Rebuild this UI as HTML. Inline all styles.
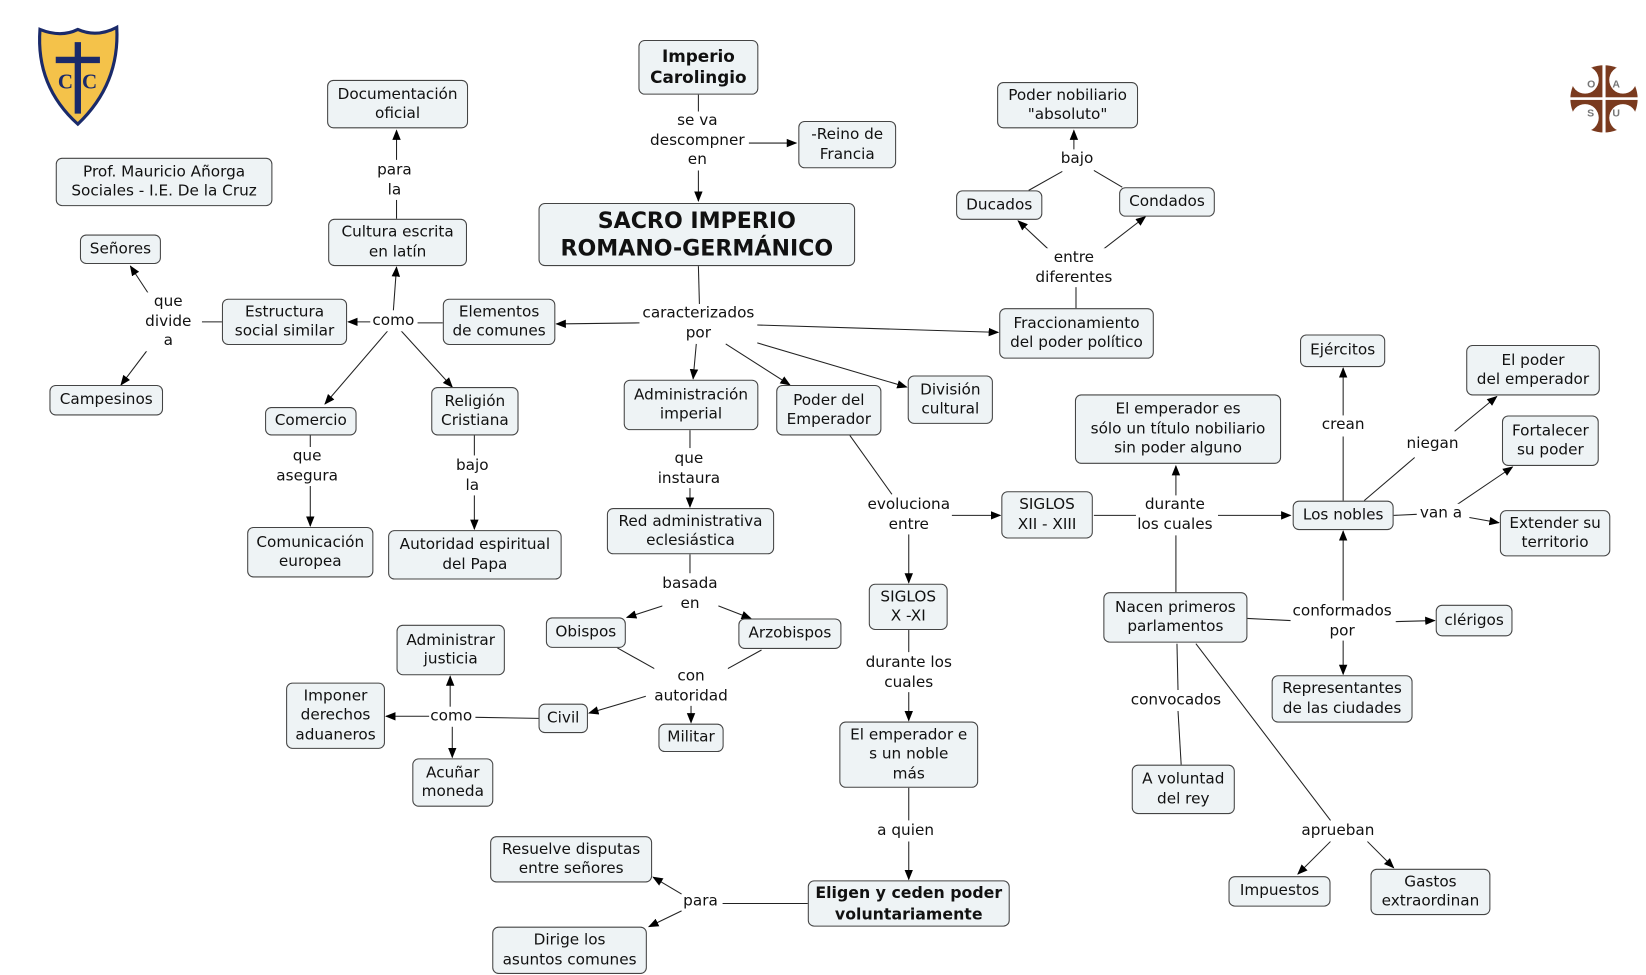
<!DOCTYPE html>
<html><head><meta charset="utf-8"><style>
html,body{margin:0;padding:0;background:#fff;width:1646px;height:975px;overflow:hidden}
#w{position:absolute;left:0;top:0;width:1565px;height:927px;transform:scale(1.0518);transform-origin:0 0;font-family:"DejaVu Sans","Liberation Sans",sans-serif;color:#111}
.n{position:absolute;box-sizing:border-box;background:#eef3f5;border:1px solid #444;border-radius:6px;display:flex;align-items:center;justify-content:center;text-align:center;font-size:14.5px;line-height:18.5px;white-space:nowrap}
.b{font-weight:bold;font-size:16px;line-height:20px}
.l{position:absolute;transform:translateX(-50%);text-align:center;font-size:14.5px;line-height:18.5px;white-space:nowrap;background:#fff}
svg{position:absolute;left:0;top:0}
</style></head><body><div id="w">
<svg width="1565" height="927">
<defs><marker id="a" markerWidth="10" markerHeight="10" refX="9" refY="5" orient="auto" markerUnits="userSpaceOnUse"><path d="M0,1 L10,5 L0,9 z" fill="#000"/></marker></defs>
<g stroke="#222" stroke-width="1" fill="none">
<line x1="664" y1="90" x2="664" y2="108"/><line x1="664" y1="162" x2="664" y2="191" marker-end="url(#a)"/><line x1="712" y1="136" x2="757" y2="136" marker-end="url(#a)"/>
<line x1="377" y1="208" x2="377" y2="190"/><line x1="377" y1="152" x2="377" y2="124" marker-end="url(#a)"/>
<line x1="1067" y1="178" x2="1040" y2="162"/><line x1="978" y1="181" x2="1010" y2="163"/><line x1="1021" y1="143" x2="1021" y2="124" marker-end="url(#a)"/>
<line x1="1023" y1="293" x2="1023" y2="272"/><line x1="1000" y1="240" x2="968" y2="210" marker-end="url(#a)"/><line x1="1045" y1="240" x2="1089" y2="206" marker-end="url(#a)"/>
<line x1="145" y1="285" x2="124" y2="253" marker-end="url(#a)"/><line x1="140" y1="333" x2="115" y2="366" marker-end="url(#a)"/><line x1="211" y1="306" x2="192" y2="306"/>
<line x1="421" y1="307" x2="397" y2="307"/><line x1="352" y1="306" x2="331" y2="306" marker-end="url(#a)"/><line x1="374" y1="295" x2="377" y2="254" marker-end="url(#a)"/><line x1="370" y1="313" x2="309" y2="384" marker-end="url(#a)"/><line x1="380" y1="313" x2="430" y2="368" marker-end="url(#a)"/>
<line x1="664" y1="253" x2="665" y2="290"/><line x1="608" y1="307" x2="529" y2="308" marker-end="url(#a)"/><line x1="720" y1="309" x2="949" y2="316" marker-end="url(#a)"/><line x1="662" y1="327" x2="659" y2="360" marker-end="url(#a)"/><line x1="690" y1="327" x2="751" y2="366" marker-end="url(#a)"/><line x1="720" y1="326" x2="862" y2="368" marker-end="url(#a)"/>
<line x1="1277" y1="476" x2="1277" y2="415"/><line x1="1277" y1="395" x2="1277" y2="350" marker-end="url(#a)"/>
<line x1="1297" y1="476" x2="1345" y2="435"/><line x1="1383" y1="410" x2="1423" y2="377" marker-end="url(#a)"/>
<line x1="1325" y1="490" x2="1347" y2="489"/><line x1="1397" y1="492" x2="1425" y2="497" marker-end="url(#a)"/><line x1="1382" y1="482" x2="1438" y2="444" marker-end="url(#a)"/>
<line x1="295" y1="414" x2="295" y2="425"/><line x1="295" y1="462" x2="295" y2="500" marker-end="url(#a)"/>
<line x1="451" y1="414" x2="451" y2="433"/><line x1="451" y1="470" x2="451" y2="503" marker-end="url(#a)"/>
<line x1="656" y1="409" x2="656" y2="426"/><line x1="656" y1="464" x2="656" y2="482" marker-end="url(#a)"/>
<line x1="808" y1="414" x2="848" y2="470"/><line x1="905" y1="490" x2="951" y2="490" marker-end="url(#a)"/><line x1="864" y1="508" x2="864" y2="554" marker-end="url(#a)"/>
<line x1="1040" y1="490" x2="1080" y2="490"/><line x1="1158" y1="490" x2="1227" y2="490" marker-end="url(#a)"/><line x1="1118" y1="473" x2="1118" y2="443" marker-end="url(#a)"/><line x1="1118" y1="563" x2="1118" y2="509"/>
<line x1="656" y1="527" x2="656" y2="545"/><line x1="630" y1="576" x2="596" y2="587" marker-end="url(#a)"/><line x1="683" y1="576" x2="714" y2="588" marker-end="url(#a)"/>
<line x1="587" y1="616" x2="628" y2="639"/><line x1="724" y1="618" x2="686" y2="639"/><line x1="614" y1="662" x2="560" y2="678" marker-end="url(#a)"/><line x1="657" y1="671" x2="657" y2="687" marker-end="url(#a)"/>
<line x1="512" y1="683" x2="452" y2="682"/><line x1="408" y1="681" x2="367" y2="681" marker-end="url(#a)"/><line x1="428" y1="672" x2="428" y2="643" marker-end="url(#a)"/><line x1="430" y1="690" x2="430" y2="720" marker-end="url(#a)"/>
<line x1="864" y1="599" x2="864" y2="620"/><line x1="864" y1="658" x2="864" y2="685" marker-end="url(#a)"/>
<line x1="864" y1="749" x2="864" y2="780"/><line x1="864" y1="800" x2="864" y2="836" marker-end="url(#a)"/>
<line x1="768" y1="859" x2="687" y2="859"/><line x1="648" y1="850" x2="621" y2="834" marker-end="url(#a)"/><line x1="648" y1="866" x2="617" y2="881" marker-end="url(#a)"/>
<line x1="1186" y1="588" x2="1227" y2="590"/><line x1="1327" y1="591" x2="1364" y2="590" marker-end="url(#a)"/><line x1="1277" y1="571" x2="1277" y2="505" marker-end="url(#a)"/><line x1="1277" y1="609" x2="1277" y2="641" marker-end="url(#a)"/>
<line x1="1119" y1="612" x2="1120" y2="656"/><line x1="1120" y1="676" x2="1123" y2="727"/>
<line x1="1137" y1="612" x2="1265" y2="780"/><line x1="1265" y1="800" x2="1234" y2="831" marker-end="url(#a)"/><line x1="1300" y1="800" x2="1325" y2="825" marker-end="url(#a)"/>
</g>
<!-- shield -->
<path d="M38,28 Q58,36 74,28 Q92,36 111,26 Q114,80 74,118 Q34,82 38,28 z" fill="#f4c24a" stroke="#1a2a6a" stroke-width="3"/>
<path d="M71,40 h6 v14 h18 v6 h-18 v48 h-6 v-48 h-18 v-6 h18 z" fill="#1a2a6a"/>
<text x="55" y="84" font-size="20" font-weight="bold" fill="#1a2a6a" font-family="Liberation Serif,serif">C</text>
<text x="78" y="84" font-size="20" font-weight="bold" fill="#1a2a6a" font-family="Liberation Serif,serif">C</text>
<!-- right logo -->
<circle cx="1525" cy="94" r="32" fill="#7a3a1e"/>
<circle cx="1507" cy="76" r="13" fill="#fff"/><circle cx="1543" cy="76" r="13" fill="#fff"/>
<circle cx="1507" cy="112" r="13" fill="#fff"/><circle cx="1543" cy="112" r="13" fill="#fff"/>
<rect x="1523.5" y="60" width="3" height="68" fill="#fff"/><rect x="1492" y="92.5" width="66" height="2.5" fill="#fff"/>
<g font-size="10" fill="#777" font-family="Liberation Sans,sans-serif" font-weight="bold"><text x="1509" y="83">O</text><text x="1533" y="83">A</text><text x="1509" y="111">S</text><text x="1533" y="111">U</text></g>
</svg>

<div class="n b" style="left:607px;top:38px;width:114px;height:52px">Imperio<br>Carolingio</div>
<div class="n" style="left:311px;top:76px;width:134px;height:46px">Documentación<br>oficial</div>
<div class="n" style="left:53px;top:150px;width:206px;height:46px">Prof. Mauricio Añorga<br>Sociales - I.E. De la Cruz</div>
<div class="n" style="left:948px;top:78px;width:134px;height:44px">Poder nobiliario<br>"absoluto"</div>
<div class="n" style="left:759px;top:115px;width:93px;height:45px">-Reino de<br>Francia</div>
<div class="n" style="left:76px;top:223px;width:77px;height:28px">Señores</div>
<div class="n" style="left:312px;top:208px;width:132px;height:45px">Cultura escrita<br>en latín</div>
<div class="n" style="left:512px;top:193px;width:301px;height:60px;font-weight:bold;font-size:21px;line-height:26px">SACRO IMPERIO<br>ROMANO-GERMÁNICO</div>
<div class="n" style="left:909px;top:181px;width:82px;height:28px">Ducados</div>
<div class="n" style="left:1064px;top:178px;width:91px;height:28px">Condados</div>
<div class="n" style="left:211px;top:284px;width:119px;height:44px">Estructura<br>social similar</div>
<div class="n" style="left:421px;top:284px;width:107px;height:44px">Elementos<br>de comunes</div>
<div class="n" style="left:950px;top:293px;width:147px;height:48px">Fraccionamiento<br>del poder político</div>
<div class="n" style="left:47px;top:366px;width:108px;height:29px">Campesinos</div>
<div class="n" style="left:1236px;top:318px;width:81px;height:31px">Ejércitos</div>
<div class="n" style="left:1394px;top:328px;width:127px;height:48px">El poder<br>del emperador</div>
<div class="n" style="left:252px;top:387px;width:87px;height:27px">Comercio</div>
<div class="n" style="left:410px;top:368px;width:83px;height:46px">Religión<br>Cristiana</div>
<div class="n" style="left:593px;top:361px;width:128px;height:48px">Administración<br>imperial</div>
<div class="n" style="left:738px;top:366px;width:100px;height:48px">Poder del<br>Emperador</div>
<div class="n" style="left:863px;top:357px;width:81px;height:46px">División<br>cultural</div>
<div class="n" style="left:1022px;top:375px;width:196px;height:66px">El emperador es<br>sólo un título nobiliario<br>sin poder alguno</div>
<div class="n" style="left:1428px;top:395px;width:92px;height:48px">Fortalecer<br>su poder</div>
<div class="n" style="left:952px;top:467px;width:87px;height:45px">SIGLOS<br>XII - XIII</div>
<div class="n" style="left:1229px;top:476px;width:96px;height:28px">Los nobles</div>
<div class="n" style="left:1426px;top:485px;width:105px;height:44px">Extender su<br>territorio</div>
<div class="n" style="left:235px;top:501px;width:120px;height:48px">Comunicación<br>europea</div>
<div class="n" style="left:577px;top:483px;width:159px;height:44px">Red administrativa<br>eclesiástica</div>
<div class="n" style="left:369px;top:504px;width:165px;height:47px">Autoridad espiritual<br>del Papa</div>
<div class="n" style="left:826px;top:555px;width:75px;height:44px">SIGLOS<br>X -XI</div>
<div class="n" style="left:1049px;top:563px;width:137px;height:48px">Nacen primeros<br>parlamentos</div>
<div class="n" style="left:1365px;top:575px;width:73px;height:30px">clérigos</div>
<div class="n" style="left:519px;top:587px;width:76px;height:29px">Obispos</div>
<div class="n" style="left:702px;top:588px;width:98px;height:29px">Arzobispos</div>
<div class="n" style="left:377px;top:594px;width:103px;height:48px">Administrar<br>justicia</div>
<div class="n" style="left:1209px;top:642px;width:134px;height:45px">Representantes<br>de las ciudades</div>
<div class="n" style="left:272px;top:649px;width:94px;height:63px">Imponer<br>derechos<br>aduaneros</div>
<div class="n" style="left:512px;top:669px;width:47px;height:28px">Civil</div>
<div class="n" style="left:626px;top:688px;width:62px;height:27px">Militar</div>
<div class="n" style="left:798px;top:686px;width:132px;height:63px">El emperador e<br>s un noble<br>más</div>
<div class="n" style="left:1076px;top:727px;width:98px;height:47px">A voluntad<br>del rey</div>
<div class="n" style="left:392px;top:721px;width:77px;height:46px">Acuñar<br>moneda</div>
<div class="n" style="left:466px;top:795px;width:154px;height:44px">Resuelve disputas<br>entre señores</div>
<div class="n b" style="left:768px;top:837px;width:192px;height:44px;font-size:15px">Eligen y ceden poder<br>voluntariamente</div>
<div class="n" style="left:1168px;top:833px;width:97px;height:29px">Impuestos</div>
<div class="n" style="left:1303px;top:826px;width:114px;height:44px">Gastos<br>extraordinan</div>
<div class="n" style="left:468px;top:881px;width:147px;height:45px">Dirige los<br>asuntos comunes</div>

<div class="l" style="left:663px;top:106px">se va<br>descompner<br>en</div>
<div class="l" style="left:375px;top:153px">para<br>la</div>
<div class="l" style="left:1024px;top:142px">bajo</div>
<div class="l" style="left:1021px;top:236px">entre<br>diferentes</div>
<div class="l" style="left:160px;top:278px">que<br>divide<br>a</div>
<div class="l" style="left:374px;top:296px">como</div>
<div class="l" style="left:664px;top:289px">caracterizados<br>por</div>
<div class="l" style="left:1277px;top:395px">crean</div>
<div class="l" style="left:1362px;top:413px">niegan</div>
<div class="l" style="left:292px;top:425px">que<br>asegura</div>
<div class="l" style="left:449px;top:434px">bajo<br>la</div>
<div class="l" style="left:655px;top:427px">que<br>instaura</div>
<div class="l" style="left:864px;top:471px">evoluciona<br>entre</div>
<div class="l" style="left:1117px;top:471px">durante<br>los cuales</div>
<div class="l" style="left:1370px;top:479px">van a</div>
<div class="l" style="left:656px;top:546px">basada<br>en</div>
<div class="l" style="left:1276px;top:572px">conformados<br>por</div>
<div class="l" style="left:657px;top:634px">con<br>autoridad</div>
<div class="l" style="left:429px;top:672px">como</div>
<div class="l" style="left:864px;top:621px">durante los<br>cuales</div>
<div class="l" style="left:1118px;top:657px">convocados</div>
<div class="l" style="left:861px;top:781px">a quien</div>
<div class="l" style="left:1272px;top:781px">aprueban</div>
<div class="l" style="left:666px;top:848px">para</div>
</div></body></html>
